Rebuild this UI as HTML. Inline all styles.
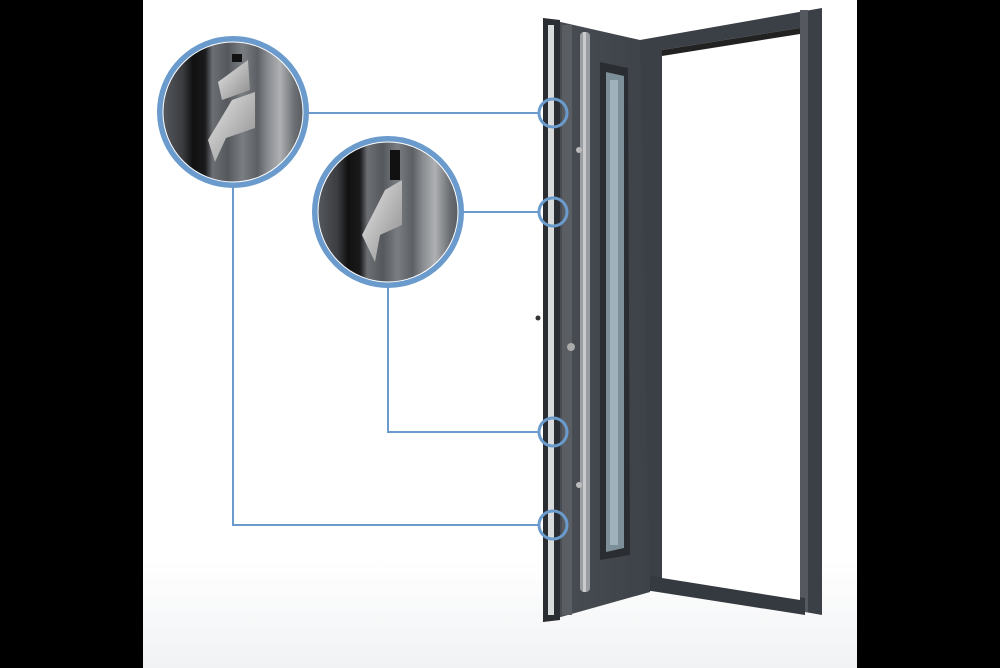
<!DOCTYPE html>
<html><head><meta charset="utf-8"><style>html,body{margin:0;padding:0;background:#000}svg{display:block}</style></head>
<body>
<svg width="1000" height="668" viewBox="0 0 1000 668" xmlns="http://www.w3.org/2000/svg">
<defs>
<linearGradient id="stripes" x1="0" x2="1" y1="0" y2="0">
<stop offset="0" stop-color="#5a5d62"/><stop offset="0.15" stop-color="#3a3c40"/>
<stop offset="0.22" stop-color="#111"/><stop offset="0.3" stop-color="#1a1a1c"/>
<stop offset="0.35" stop-color="#6c6f74"/><stop offset="0.45" stop-color="#55585c"/>
<stop offset="0.55" stop-color="#7a7d82"/><stop offset="0.65" stop-color="#5c5f63"/>
<stop offset="0.72" stop-color="#8a8d91"/><stop offset="0.8" stop-color="#aeb0b3"/>
<stop offset="0.9" stop-color="#6a6d71"/><stop offset="1" stop-color="#4a4d51"/>
</linearGradient>
<linearGradient id="hook" x1="0" x2="1" y1="0" y2="1">
<stop offset="0" stop-color="#e8e8e8"/><stop offset="1" stop-color="#8a8a8a"/>
</linearGradient>
<linearGradient id="leaf" x1="0" x2="1">
<stop offset="0" stop-color="#4a4f55"/><stop offset="1" stop-color="#3d4248"/>
</linearGradient>
<linearGradient id="floor" x1="0" x2="0" y1="0" y2="1">
<stop offset="0" stop-color="#fff"/><stop offset="1" stop-color="#f1f2f4"/>
</linearGradient>
<clipPath id="c1"><circle cx="233" cy="112" r="70"/></clipPath>
<clipPath id="c2"><circle cx="388" cy="212" r="70"/></clipPath>
</defs>
<rect x="143" y="0" width="714" height="668" fill="#fff"/>
<rect x="143" y="560" width="714" height="108" fill="url(#floor)"/>

<!-- frame -->
<polygon points="640,40 822,8 822,615 805,612 805,30 662,52 662,590 640,592" fill="#3b4046"/>
<polygon points="800,10 808,10 808,612 800,612" fill="#55595f"/>
<polygon points="645,575 805,598 805,615 645,590" fill="#353a40"/>
<polygon points="662,50 800,28 800,600 662,578" fill="#fff"/>
<polygon points="662,50 800,28 800,34 662,56" fill="#222"/>

<!-- leaf -->
<polygon points="543,18 640,40 650,592 543,622" fill="url(#leaf)"/>
<polygon points="543,18 560,20 560,620 543,622" fill="#2a2d31"/>
<rect x="548" y="25" width="6" height="590" fill="#d9dadc"/>
<rect x="562" y="25" width="10" height="590" fill="#5a5e63"/>
<rect x="580" y="32" width="10" height="560" rx="4" fill="#9a9da1"/>
<rect x="583" y="32" width="3" height="560" fill="#c9cbcd"/>
<polygon points="600,62 628,68 630,555 600,560" fill="#2a2e33"/>
<polygon points="606,72 624,76 624,548 606,552" fill="#7d8f99"/>
<rect x="610" y="80" width="8" height="465" fill="#9fb2bb"/>
<circle cx="579" cy="150" r="3" fill="#bbb"/>
<circle cx="571" cy="347" r="4" fill="#aaa"/>
<circle cx="538" cy="318" r="2.5" fill="#333"/>
<circle cx="579" cy="485" r="3" fill="#bbb"/>

<!-- connectors -->
<g stroke="#6a9bcc" stroke-width="2" fill="none">
<line x1="308" y1="113" x2="539" y2="113"/>
<line x1="462" y1="212" x2="539" y2="212"/>
<polyline points="388,285 388,432 539,432"/>
<polyline points="233,186 233,525 539,525"/>
</g>
<g stroke="#6a9bcc" stroke-width="3" fill="none">
<circle cx="553" cy="113" r="14"/>
<circle cx="553" cy="212" r="14"/>
<circle cx="553" cy="432" r="14"/>
<circle cx="553" cy="525" r="14"/>
</g>

<!-- detail circles -->
<g clip-path="url(#c1)">
<rect x="160" y="40" width="150" height="150" fill="url(#stripes)"/>
<rect x="232" y="54" width="10" height="8" fill="#111"/>
<polygon points="218,82 248,60 250,90 222,100" fill="url(#hook)"/>
<polygon points="208,140 232,100 255,92 255,128 226,138 215,162" fill="url(#hook)"/>
</g>
<circle cx="233" cy="112" r="73" fill="none" stroke="#6a9bcc" stroke-width="6"/>
<circle cx="233" cy="112" r="70" fill="none" stroke="#fff" stroke-width="1"/>
<g clip-path="url(#c2)">
<rect x="315" y="140" width="150" height="150" fill="url(#stripes)"/>
<rect x="390" y="150" width="10" height="30" fill="#111"/>
<polygon points="362,235 385,190 402,180 402,225 380,235 375,262" fill="url(#hook)"/>
</g>
<circle cx="388" cy="212" r="73" fill="none" stroke="#6a9bcc" stroke-width="6"/>
<circle cx="388" cy="212" r="70" fill="none" stroke="#fff" stroke-width="1"/>
</svg>
</body></html>
